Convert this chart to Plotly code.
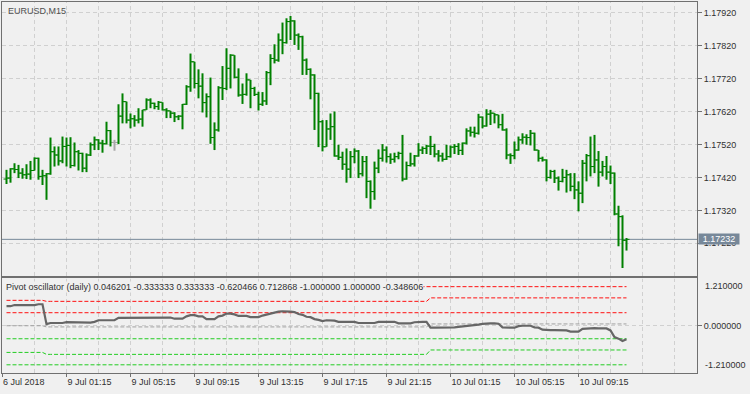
import plotly.graph_objects as go

# ---------------- data (EURUSD M15, 156 bars) ----------------
opens = [
 1.17415,1.17418,1.17446,1.17444,1.17433,1.17428,1.17430,1.17441,1.17478,1.17423,
 1.17425,1.17431,1.17498,1.17488,1.17470,1.17514,1.17517,1.17456,1.17498,1.17493,
 1.17448,1.17488,1.17519,1.17534,1.17524,1.17522,1.17562,1.17526,1.17526,1.17606,
 1.17650,1.17594,1.17598,1.17594,1.17597,1.17625,1.17655,1.17645,1.17635,1.17648,
 1.17625,1.17622,1.17615,1.17604,1.17606,1.17642,1.17695,1.17771,1.17705,1.17697,
 1.17647,1.17665,1.17541,1.17564,1.17692,1.17690,1.17751,1.17791,1.17724,1.17670,
 1.17672,1.17716,1.17690,1.17672,1.17642,1.17652,1.17738,1.17781,1.17776,1.17837,
 1.17829,1.17893,1.17895,1.17852,1.17847,1.17776,1.17748,1.17731,1.17675,1.17589,
 1.17513,1.17567,1.17574,1.17485,1.17481,1.17460,1.17445,1.17483,1.17500,1.17431,
 1.17468,1.17408,1.17377,1.17448,1.17478,1.17503,1.17483,1.17475,1.17483,1.17493,
 1.17415,1.17456,1.17461,1.17485,1.17503,1.17508,1.17515,1.17514,1.17491,1.17485,
 1.17475,1.17483,1.17512,1.17514,1.17502,1.17524,1.17561,1.17557,1.17554,1.17603,
 1.17576,1.17612,1.17615,1.17610,1.17580,1.17564,1.17488,1.17486,1.17503,1.17534,
 1.17542,1.17541,1.17554,1.17503,1.17478,1.17473,1.17420,1.17438,1.17418,1.17408,
 1.17420,1.17428,1.17393,1.17382,1.17372,1.17463,1.17486,1.17453,1.17473,1.17436,
 1.17453,1.17436,1.17433,1.17309,1.17301,1.17229]
highs = [
 1.17443,1.17448,1.17463,1.17458,1.17448,1.17460,1.17470,1.17481,1.17480,1.17443,
 1.17433,1.17541,1.17514,1.17514,1.17544,1.17541,1.17542,1.17526,1.17503,1.17495,
 1.17493,1.17526,1.17544,1.17536,1.17534,1.17589,1.17564,1.17534,1.17642,1.17675,
 1.17650,1.17614,1.17609,1.17630,1.17625,1.17660,1.17660,1.17647,1.17652,1.17648,
 1.17630,1.17622,1.17618,1.17609,1.17643,1.17700,1.17796,1.17771,1.17748,1.17736,
 1.17675,1.17723,1.17587,1.17697,1.17758,1.17812,1.17794,1.17791,1.17751,1.17705,
 1.17736,1.17716,1.17695,1.17680,1.17679,1.17743,1.17794,1.17824,1.17857,1.17890,
 1.17903,1.17910,1.17897,1.17857,1.17850,1.17781,1.17751,1.17733,1.17677,1.17594,
 1.17594,1.17614,1.17620,1.17519,1.17498,1.17508,1.17500,1.17508,1.17503,1.17485,
 1.17485,1.17411,1.17468,1.17505,1.17521,1.17514,1.17493,1.17495,1.17498,1.17549,
 1.17468,1.17495,1.17488,1.17524,1.17514,1.17519,1.17546,1.17522,1.17503,1.17495,
 1.17519,1.17517,1.17521,1.17524,1.17526,1.17569,1.17574,1.17574,1.17613,1.17605,
 1.17627,1.17625,1.17615,1.17610,1.17613,1.17569,1.17493,1.17529,1.17544,1.17554,
 1.17551,1.17564,1.17556,1.17503,1.17483,1.17475,1.17443,1.17443,1.17423,1.17446,
 1.17443,1.17433,1.17433,1.17408,1.17473,1.17491,1.17544,1.17549,1.17500,1.17470,
 1.17485,1.17456,1.17435,1.17334,1.17305,1.17236]
lows = [
 1.17400,1.17404,1.17433,1.17418,1.17416,1.17415,1.17413,1.17441,1.17413,1.17397,
 1.17352,1.17428,1.17453,1.17456,1.17463,1.17453,1.17448,1.17453,1.17441,1.17436,
 1.17436,1.17485,1.17503,1.17503,1.17495,1.17520,1.17514,1.17501,1.17521,1.17584,
 1.17584,1.17569,1.17574,1.17584,1.17574,1.17625,1.17630,1.17627,1.17625,1.17623,
 1.17600,1.17600,1.17588,1.17594,1.17566,1.17640,1.17680,1.17690,1.17660,1.17617,
 1.17602,1.17522,1.17503,1.17559,1.17655,1.17685,1.17690,1.17721,1.17665,1.17643,
 1.17668,1.17630,1.17667,1.17623,1.17637,1.17640,1.17700,1.17766,1.17771,1.17794,
 1.17826,1.17837,1.17822,1.17807,1.17731,1.17731,1.17657,1.17564,1.17512,1.17499,
 1.17513,1.17534,1.17483,1.17473,1.17443,1.17404,1.17418,1.17463,1.17418,1.17423,
 1.17357,1.17325,1.17352,1.17433,1.17468,1.17465,1.17461,1.17465,1.17475,1.17408,
 1.17413,1.17453,1.17453,1.17483,1.17491,1.17491,1.17488,1.17481,1.17468,1.17468,
 1.17473,1.17480,1.17491,1.17488,1.17488,1.17520,1.17544,1.17541,1.17550,1.17569,
 1.17574,1.17579,1.17584,1.17569,1.17562,1.17475,1.17461,1.17475,1.17501,1.17522,
 1.17519,1.17517,1.17501,1.17468,1.17468,1.17408,1.17416,1.17403,1.17380,1.17405,
 1.17374,1.17378,1.17354,1.17317,1.17342,1.17408,1.17423,1.17433,1.17392,1.17423,
 1.17413,1.17400,1.17305,1.17211,1.17145,1.17198]
closes = [
 1.17418,1.17446,1.17444,1.17433,1.17428,1.17430,1.17441,1.17478,1.17423,1.17425,
 1.17431,1.17498,1.17488,1.17470,1.17514,1.17517,1.17456,1.17498,1.17493,1.17448,
 1.17488,1.17519,1.17534,1.17524,1.17522,1.17562,1.17526,1.17526,1.17606,1.17650,
 1.17594,1.17598,1.17594,1.17597,1.17625,1.17655,1.17645,1.17635,1.17648,1.17625,
 1.17622,1.17615,1.17604,1.17606,1.17642,1.17695,1.17771,1.17705,1.17697,1.17647,
 1.17665,1.17541,1.17564,1.17692,1.17690,1.17751,1.17791,1.17724,1.17670,1.17672,
 1.17716,1.17690,1.17672,1.17642,1.17652,1.17738,1.17781,1.17776,1.17837,1.17829,
 1.17893,1.17895,1.17852,1.17847,1.17776,1.17748,1.17731,1.17675,1.17589,1.17513,
 1.17567,1.17574,1.17485,1.17481,1.17460,1.17445,1.17483,1.17500,1.17431,1.17468,
 1.17408,1.17377,1.17448,1.17478,1.17503,1.17483,1.17475,1.17483,1.17493,1.17415,
 1.17456,1.17461,1.17485,1.17503,1.17508,1.17515,1.17514,1.17491,1.17485,1.17475,
 1.17483,1.17512,1.17514,1.17502,1.17524,1.17561,1.17557,1.17554,1.17603,1.17576,
 1.17612,1.17615,1.17610,1.17580,1.17564,1.17488,1.17486,1.17503,1.17534,1.17542,
 1.17541,1.17554,1.17503,1.17478,1.17473,1.17420,1.17438,1.17418,1.17408,1.17420,
 1.17428,1.17393,1.17382,1.17372,1.17463,1.17486,1.17453,1.17473,1.17436,1.17453,
 1.17436,1.17433,1.17309,1.17301,1.17229,1.17232]

# Pivot oscillator values per bar
osc = [
 0.50,0.50,0.53,0.53,0.53,0.53,0.53,0.53,0.55,0.55,
 0.04,0.07,0.07,0.07,0.07,0.09,0.09,0.09,0.09,0.09,
 0.08,0.08,0.10,0.14,0.14,0.14,0.14,0.14,0.20,0.20,
 0.20,0.20,0.20,0.20,0.20,0.21,0.21,0.21,0.21,0.21,
 0.21,0.21,0.18,0.18,0.18,0.24,0.27,0.27,0.24,0.24,
 0.17,0.17,0.17,0.24,0.26,0.31,0.31,0.29,0.25,0.25,
 0.25,0.22,0.22,0.22,0.26,0.29,0.32,0.35,0.36,0.37,
 0.37,0.36,0.35,0.30,0.28,0.23,0.22,0.17,0.15,0.12,
 0.14,0.14,0.13,0.10,0.10,0.10,0.10,0.10,0.07,0.07,
 0.08,0.07,0.07,0.10,0.10,0.10,0.10,0.10,0.06,0.06,
 0.06,0.06,0.09,0.10,0.10,0.10,-0.05,-0.05,-0.05,-0.05,
 -0.05,-0.05,-0.04,-0.03,-0.02,0.00,0.01,0.02,0.03,0.05,
 0.06,0.06,0.06,0.05,-0.04,-0.05,-0.05,-0.05,-0.01,0.00,
 0.00,0.00,-0.04,-0.05,-0.10,-0.11,-0.11,-0.11,-0.11,-0.11,
 -0.12,-0.15,-0.15,-0.15,-0.08,-0.07,-0.07,-0.06,-0.07,-0.07,
 -0.07,-0.12,-0.29,-0.33,-0.39,-0.348606]

# daily pivot levels (oscillator units); day_start = first bar of each day
day_start = [0, 10, 106]
pivot_lv = [0.0, -0.03, 0.046201]
r1_lv = [0.333333, 0.333333, 0.333333]
s1_lv = [-0.333333, -0.333333, -0.333333]
r2_lv = [0.65, 0.624, 0.712868]
s2_lv = [-0.683, -0.733, -0.620466]
r3_lv = [1.0, 1.0, 1.0]
s3_lv = [-1.0, -1.0, -1.0]

price_ticks = [1.17220, 1.17320, 1.17420, 1.17520, 1.17620, 1.17720, 1.17820, 1.17920]
osc_max = 1.21
time_tick_bars = [15, 31, 47, 63, 79, 95, 111, 127, 143]
time_tick_labels = ["9 Jul 01:15", "9 Jul 05:15", "9 Jul 09:15", "9 Jul 13:15", "9 Jul 17:15",
                    "9 Jul 21:15", "10 Jul 01:15", "10 Jul 05:15", "10 Jul 09:15"]
first_label = "6 Jul 2018"

# ---------------- styling ----------------
BG = "#f0f0f0"
FRAME = "#707070"
GRID = "#d0d0d0"
GREEN = "#008000"
DOJI = "#a8a8a8"
RED = "#ff1010"
LIME = "#22cc22"
DASH = "4px,2px"
FONT = "Liberation Sans, Arial, sans-serif"
TXT = "#303030"

n = len(closes)
x_lo, x_hi = -1.125, 172.625
grid_bars = list(range(7, 172, 8))

def bar_segments(select):
    vx, vy, tx, ty = [], [], [], []
    for i in range(n):
        if not select(i):
            continue
        vx += [i, i, None]
        vy += [lows[i], highs[i], None]
        tx += [i - 0.75, i, None, i, i + 0.75, None]
        ty += [opens[i], opens[i], None, closes[i], closes[i], None]
    return vx, vy, tx, ty

fig = go.Figure()

# vertical grid lines (both panels) and price line, drawn as traces under the marks
for gx in grid_bars:
    for xa, ya, lo, hi in [("x2", "y", 1.171208, 1.179524), ("x", "y2", -osc_max, osc_max)]:
        fig.add_trace(go.Scatter(x=[gx, gx], y=[lo, hi], mode="lines",
                                 line=dict(color=GRID, width=1, dash="4px,3px"),
                                 xaxis=xa, yaxis=ya, hoverinfo="skip"))

last = closes[-1]
fig.add_trace(go.Scatter(x=[x_lo, x_hi], y=[last, last], mode="lines",
                         line=dict(color="#778899", width=1), xaxis="x2", yaxis="y",
                         hoverinfo="skip"))

for sel, col in [(lambda i: opens[i] != closes[i], GREEN), (lambda i: opens[i] == closes[i], DOJI)]:
    vx, vy, tx, ty = bar_segments(sel)
    fig.add_trace(go.Scatter(x=vx, y=vy, mode="lines", line=dict(color=col, width=2),
                             xaxis="x2", yaxis="y", hoverinfo="skip"))
    fig.add_trace(go.Scatter(x=tx, y=ty, mode="lines", line=dict(color=col, width=1),
                             xaxis="x2", yaxis="y", hoverinfo="skip"))

# level lines in the oscillator panel, one trace per day (joined to the previous day's last bar)
for levels, col in [(r3_lv, RED), (r2_lv, RED), (r1_lv, RED),
                    (pivot_lv, "#a0a0a0"),
                    (s1_lv, LIME), (s2_lv, LIME), (s3_lv, LIME)]:
    for d, v in enumerate(levels):
        start = day_start[d]
        end = day_start[d + 1] if d + 1 < len(day_start) else n
        xs = list(range(start, end))
        ys = [v] * len(xs)
        if d > 0:
            xs = [start - 1] + xs
            ys = [levels[d - 1]] + ys
        fig.add_trace(go.Scatter(x=xs, y=ys, mode="lines",
                                 line=dict(color=col, width=1, dash=DASH),
                                 xaxis="x", yaxis="y2", hoverinfo="skip"))

idx = list(range(n))
fig.add_trace(go.Scatter(x=idx, y=osc, mode="lines", line=dict(color="#666666", width=2.2),
                         xaxis="x", yaxis="y2", hoverinfo="skip"))

frame = dict(showline=True, linecolor=FRAME, linewidth=1, mirror=True, zeroline=False)

fig.update_layout(
    width=750, height=394,
    margin=dict(l=2, r=53, t=2, b=21, autoexpand=False),
    paper_bgcolor=BG, plot_bgcolor=BG,
    showlegend=False,
    font=dict(family=FONT, size=9, color=TXT),
    xaxis=dict(domain=[0, 1], anchor="y2", range=[x_lo, x_hi], automargin=False,
               tickmode="array", tickvals=[x_lo] + time_tick_bars,
               ticktext=[first_label] + time_tick_labels,
               ticks="outside", ticklen=3, tickcolor=FRAME,
               ticklabelposition="outside right", showgrid=False,
               tickfont=dict(family=FONT, size=9, color=TXT), **frame),
    xaxis2=dict(domain=[0, 1], anchor="y", range=[x_lo, x_hi], automargin=False,
                showticklabels=False, ticks="", showgrid=False, **frame),
    yaxis=dict(domain=[0.2615, 1], anchor="x2", side="right", automargin=False,
               range=[1.171208, 1.179524],
               tickmode="array", tickvals=price_ticks,
               ticktext=[f"{v:.5f}" for v in price_ticks],
               ticks="outside", ticklen=4, tickcolor=FRAME,
               showgrid=True, gridcolor=GRID, griddash="4px,3px", **frame),
    yaxis2=dict(domain=[0, 0.2548], anchor="x", side="right", automargin=False,
                range=[-osc_max, osc_max],
                tickmode="array", tickvals=[0], ticktext=["0.000000"],
                ticks="outside", ticklen=4, tickcolor=FRAME,
                showgrid=True, gridcolor=GRID, griddash="4px,3px", **frame),
)

label_vals = [pivot_lv[-1], s1_lv[-1], r1_lv[-1], s2_lv[-1], r2_lv[-1], s3_lv[-1], r3_lv[-1], osc[-1]]
fig.add_annotation(xref="paper", yref="paper", x=0, y=1, xanchor="left", yanchor="top",
                   xshift=4, yshift=-2, showarrow=False, text="EURUSD,M15",
                   font=dict(family=FONT, size=9, color="#505050"))
fig.add_annotation(xref="paper", yref="y2", x=0, y=osc_max, xanchor="left", yanchor="top",
                   xshift=3, yshift=-3, showarrow=False, bgcolor=BG, borderpad=0,
                   text="Pivot oscillator (daily) " + " ".join(f"{v:.6f}" for v in label_vals),
                   font=dict(family=FONT, size=9, color=TXT))
fig.add_annotation(xref="paper", yref="y", x=1, y=last, xanchor="left", yanchor="middle",
                   xshift=1, showarrow=False, bgcolor="#778899", width=40, height=10,
                   borderpad=0, text=f"{last:.5f}", font=dict(family=FONT, size=9, color="white"))
for v, anc in [(osc_max, "top"), (-osc_max, "bottom")]:
    fig.add_annotation(xref="paper", yref="y2", x=1, y=v, xanchor="left", yanchor=anc,
                       xshift=6, yshift=-1 if anc == "top" else 1, showarrow=False,
                       text=f"{v:.6f}", font=dict(family=FONT, size=9, color=TXT))

fig.write_html("out.html", config={"displayModeBar": False},
               post_script="document.body.style.margin='0';document.body.style.padding='0';")
